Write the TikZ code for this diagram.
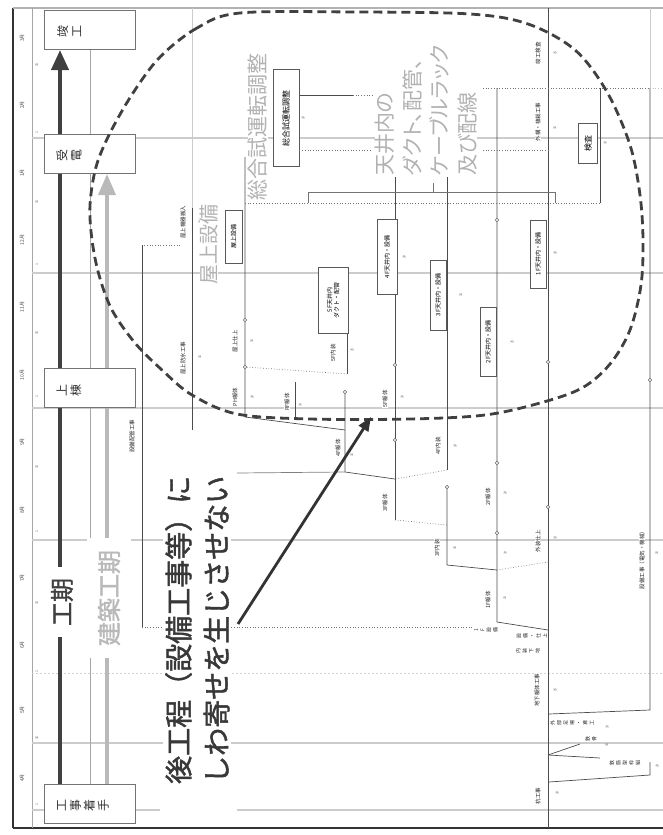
\documentclass[tikz,border=0pt]{standalone}
\usepackage{fontspec}
\setmainfont{Noto Sans CJK JP}
\newfontfamily\jpb[FakeBold=1.6]{Noto Sans CJK JP}
\newfontfamily\jpp[RawFeature=+palt]{Noto Sans CJK JP}
\usetikzlibrary{arrows.meta,positioning}

\tikzset{
  monthline/.style={gray!40,line width=2.2pt},
  procline/.style={black!70,line width=0.7pt},
  dprocline/.style={black!55,line width=0.7pt,dotted},
  tagv/.style={rotate=90,font=\fontsize{5.5}{6}\selectfont,text=black!85,inner sep=0.4pt,fill=white},
  tagh/.style={rotate=90,align=center,font=\fontsize{5}{6.5}\selectfont,text=black!85,inner sep=0.4pt,fill=white},
  numlbl/.style={rotate=90,font=\fontsize{3.5}{3.5}\selectfont,text=black!60,inner sep=0pt},
  monlbl/.style={rotate=90,font=\fontsize{5}{5}\selectfont,text=black!70,inner sep=0pt},
  taskbox/.style={rotate=90,draw=black!65,line width=0.8pt,fill=white,
    font=\fontsize{6}{7}\selectfont,align=center,inner sep=1pt},
  milebox/.style={draw=black!55,line width=1pt,fill=white,minimum width=91pt,minimum height=39pt,inner sep=0pt},
  miletext/.style={rotate=90,align=center,font=\fontsize{12}{14}\selectfont,text=black!80,inner sep=0pt},
  evt/.style={circle,draw=black!60,fill=white,inner sep=0pt,minimum size=3.5pt},
  gnote/.style={rotate=90,text=gray!60,font=\jpp\fontsize{21}{27.5}\selectfont,align=left,inner sep=0pt,fill=white},
}

\begin{document}
\begin{tikzpicture}[x=1pt,y=-1pt]
\useasboundingbox (0,0) rectangle (663,835);

% frame
\draw[black!80,line width=1.6pt] (13,8) -- (13,828);
\draw[black!80,line width=1.8pt] (13,828) -- (663,828);
\draw[gray!60,line width=2pt] (13,8) -- (663,8);
\draw[gray!70,line width=0.6pt] (32,8) -- (32,828);

% month grid
\foreach \y in {138,273,408,540,743}
  \draw[monthline] (32,\y) -- (663,\y);
\draw[monthline] (32,810) -- (160,810);
\draw[monthline] (237,810) -- (663,810);
\draw[gray!35,line width=0.8pt,dash pattern=on 2pt off 2pt] (32,673) -- (663,673);

% months and days
\foreach \y/\m [count=\i] in {38/3,105/2,173/1,240/12,307/11,375/10,442/9,510/8,578/7,645/6,710/5,778/4}
  \node[monlbl] (mon\i) at (22,\y) {{\m}月};
\foreach \y/\d [count=\i] in {65/15,133/1,202/15,265/1,333/15,397/1,467/15,532/1,603/15,672/1,738/15,805/1}
  \node[numlbl] (day\i) at (37,\y) {\d};

% milestones
\node[milebox] (ms1) at (89.5,30) {};
\node[milebox] (ms2) at (89.5,154) {};
\node[milebox] (ms3) at (89.5,388) {};
\node[milebox] (ms4) at (89.5,804) {};
\node[miletext] (ms1t) at (69,31) {竣\\工};
\node[miletext] (ms2t) at (69,155) {受\\電};
\node[miletext] (ms3t) at (69,390) {上\\棟};
\node[miletext] (ms4t) at (83,805) {工\\事\\着\\手};

\coordinate (colK) at (60,0);
\coordinate (colT) at (90,0);
\coordinate (colB) at (107,0);

% whole period
\draw[black!75,line width=4pt] (ms4.north -| colK) -- (ms3.south -| colK);
\draw[black!75,line width=4pt] (ms3.north -| colK) -- (ms2.south -| colK);
\draw[black!75,line width=4pt,-{Triangle[length=20pt,width=17pt]}] (ms2.north -| colK) -- (ms1.south -| colK);
% building period
\draw[gray!55,line width=3.5pt] (ms4.north -| colB) -- (ms3.south -| colB);
\draw[gray!55,line width=3.5pt,-{Triangle[length=21pt,width=17pt]}] (ms3.north -| colB) -- (ms2.south -| colB);
% thin line
\draw[gray!70,line width=0.7pt] (ms1.south -| colT) -- (ms2.north -| colT);
\draw[gray!70,line width=0.7pt] (ms2.south -| colT) -- (ms3.north -| colT);
\draw[gray!70,line width=0.7pt] (ms3.south -| colT) -- (ms4.north -| colT);

\node[rotate=90,fill=white,text=black!75,font=\jpb\fontsize{24}{24}\selectfont,
  minimum width=70pt,minimum height=24pt,inner sep=0pt] (kouki) at (62,602) {工期};
\node[rotate=90,fill=white,text=gray!55,font=\jpb\fontsize{24}{24}\selectfont,
  minimum width=120pt,minimum height=44pt,inner sep=0pt] (kenchiku) at (109,598) {建築工期};

% process network
\coordinate (r1) at (180,245);
\coordinate (r2) at (142,245);
\coordinate (r3) at (142,627);
\coordinate (r4) at (475,627);
\draw[dprocline] (r1) -- (r2);
\draw[procline] (r2) -- (r3);
\draw[dprocline] (r3) -- (r4);

\coordinate (q1) at (192,8);
\coordinate (q2) at (192,208);
\coordinate (q3) at (192,430);
\draw[gray!40,line width=0.5pt] (q1) -- (q2);
\draw[procline] (q2) -- (q3);

\coordinate (s1) at (245,157);
\coordinate (s2) at (245,417);
\coordinate (s3) at (345,430);
\coordinate (s4) at (347,374);
\draw[procline] (s1) -- (s2) -- (s3);
\node[evt] (e1) at (245,320) {};
\node[evt] (e2) at (245,367) {};
\draw[dprocline] (e2) -- (s4);

\coordinate (c1) at (347,277);
\coordinate (c2) at (345,472);
\coordinate (c0) at (237,473);
\coordinate (j1) at (395,479);
\coordinate (p1) at (295,382);
\coordinate (p2) at (295,420);
\draw[procline] (c1) -- (s4);
\node[evt] (e3) at (345,392) {};
\draw[procline] (e3) -- (c2) -- (j1);
\draw[procline,black!50] (c0) -- (c2);
\draw[procline] (p1) -- (p2);

\coordinate (d1) at (395,177);
\coordinate (d2) at (395,520);
\coordinate (d3) at (447,525);
\draw[procline] (d1) -- (d2);
\draw[dprocline] (d2) -- (d3);
\node[evt] (e4) at (395,365) {};
\node[evt] (e5) at (395,440) {};

\coordinate (f1) at (447,177);
\coordinate (f2) at (447,470);
\coordinate (f3) at (447,565);
\coordinate (f4) at (497,570);
\draw[procline] (f1) -- (f2);
\draw[dprocline] (f2) -- (j1);
\node[evt] (e6) at (447,487) {};
\draw[procline] (e6) -- (f3) -- (f4);

\coordinate (g1) at (497,88);
\coordinate (g2) at (497,622);
\coordinate (g3) at (548,630);
\coordinate (g4) at (548,562);
\draw[procline] (g1) -- (g2) -- (g3);
\draw[dprocline] (f4) -- (g4);
\node[evt] (e7) at (497,220) {};
\node[evt] (e8) at (497,463) {};
\node[evt] (e9) at (497,533) {};

\coordinate (k1) at (548,8);
\coordinate (k2) at (548,828);
\draw[procline] (k1) -- (k2);
\node[evt] (e10) at (548,362) {};
\node[evt] (e11) at (548,507) {};

\coordinate (h0) at (650,8);
\coordinate (h1) at (650,88);
\coordinate (h2) at (650,710);
\coordinate (h3) at (549,714);
\coordinate (h4) at (663,88);
\coordinate (u1) at (483,88);
\draw[gray!40,line width=0.5pt] (h0) -- (h1);
\draw[procline] (h1) -- (h2) -- (h3);
\draw[dprocline] (u1) -- (h1);
\draw[dprocline,gray!50] (h1) -- (h4);
\node[evt] (e12) at (650,380) {};

\coordinate (v1) at (600,88);
\coordinate (v2) at (600,203);
\coordinate (w1) at (245,203);
\draw[procline] (v1) -- (v2);
\draw[dprocline] (w1) -- (v2);
\coordinate (b1) at (308,203);
\coordinate (b2) at (308,192);
\coordinate (b3) at (555,192);
\coordinate (b4) at (555,203);
\coordinate (b5) at (433,192);
\coordinate (b6) at (433,183);
\draw[procline,black!55] (b1) -- (b2) -- (b3) -- (b4);
\draw[procline,black!55] (b5) -- (b6);

\coordinate (m1) at (548,755);
\coordinate (m2) at (580,744);
\coordinate (m3) at (600,758);
\coordinate (m4) at (650,762);
\coordinate (m5) at (650,775);
\coordinate (m6) at (549,782);
\draw[procline] (m1) -- (m2);
\draw[procline] (m1) -- (m3);
\draw[procline] (m4) -- (m5) -- (m6);

% task boxes
\node[taskbox,minimum width=97pt,minimum height=26pt,font=\fontsize{8}{9}\selectfont] (bA) at (286,118) {総合試運転調整};
\node[taskbox,minimum width=53pt,minimum height=17pt] (bB) at (233.5,236.5) {屋上設備};
\node[taskbox,minimum width=66pt,minimum height=30pt] (bC) at (333,300) {5F天井内\\ダクト・配管};
\node[taskbox,minimum width=75pt,minimum height=20pt] (bD) at (387,257) {4F天井内・設備};
\node[taskbox,minimum width=70pt,minimum height=16pt] (bE) at (438,295) {3F天井内・設備};
\node[taskbox,minimum width=69pt,minimum height=16pt] (bF) at (488,342) {2F天井内・設備};
\node[taskbox,minimum width=68pt,minimum height=16pt] (bG) at (538,254) {1F天井内・設備};
\node[taskbox,minimum width=40pt,minimum height=19pt,font=\fontsize{8}{9}\selectfont] (bH) at (588,143) {検査};

\coordinate (t1) at (353,95);
\coordinate (t2) at (372,95);
\coordinate (t3) at (372,150);
\coordinate (t4) at (483,150);
\coordinate (t5) at (548,150);
\draw[procline] (bA.south |- t1) -- (t1);
\draw[dprocline] (t1) -- (t2);
\draw[dprocline] (bA.south |- t3) -- (t3);
\draw[dprocline] (t4) -- (t5);

% small labels
\node[tagv] (ta1) at (538,53) {竣工検査};
\node[tagv] (ta2) at (538,122) {外構・植栽工事};
\node[tagv] (ta3) at (183,222) {屋上機器搬入};
\node[tagv] (ta4) at (183,358) {屋上防水工事};
\node[tagv] (ta5) at (132,436) {設備配管工事};
\node[tagv] (ta6) at (235,341) {屋上仕上};
\node[tagv] (ta7) at (235,397) {PH躯体};
\node[tagv] (ta8) at (287,402) {RF躯体};
\node[tagv] (ta9) at (333,353) {5F内装};
\node[tagv] (ta10) at (385,399) {5F躯体};
\node[tagv] (ta11) at (338,448) {4F躯体};
\node[tagv] (ta12) at (438,446) {4F内装};
\node[tagv] (ta13) at (385,503) {3F躯体};
\node[tagv] (ta14) at (437,548) {3F内装};
\node[tagv] (ta15) at (488,497) {2F躯体};
\node[tagv] (ta16) at (488,600) {1F躯体};
\node[tagv] (ta17) at (538,541) {外装仕上};
\node[tagv] (ta18) at (537,690) {地下躯体工事};
\node[tagv] (ta19) at (538,796) {杭工事};
\node[tagv] (ta20) at (642,559) {設備工事（電気・機械）};

\node[tagh] (tb1) at (572,723) {外\\部\\足\\場\\・\\鳶\\工};
\node[tagh] (tb2) at (591,739) {鉄\\骨};
\node[tagh] (tb3) at (625,763) {鉄\\筋\\型\\枠\\組};
\node[tagh] (tb4) at (532,636) {設\\備\\・\\仕\\上};
\node[tagh] (tb5) at (528,651) {内\\装\\下\\地};
\node[tagh] (tb6) at (486,630) {1\\F\\設\\備};

\foreach \x/\y/\d [count=\i] in {303/118/20,200/357/15,300/405/10,352/350/25,402/397/10,
    352/455/15,455/446/20,455/548/15,505/493/20,505/553/10,505/598/15,555/53/25,
    555/128/15,555/253/20,555/538/10,555/690/25,557/793/20,657/553/15,607/727/10,
    607/745/15,657/766/20,605/143/10,252/341/15,252/397/20,200/222/10,461/295/15,
    512/342/25,404/257/20}
  \node[numlbl] (nm\i) at (\x,\y) {\d};

% notes in grey
\node[gnote,anchor=west] (n1) at (258,201) {総合試運転調整};
\node[gnote,anchor=north west] (n2) at (375,176) {天井内の\\ダクト、配管、\\ケーブルラック\\及び配線};
\node[gnote,anchor=west,font=\jpp\fontsize{20}{20}\selectfont] (n3) at (209,285) {屋上設備};

% message
\node[rotate=90,anchor=north west,align=left,fill=white,inner sep=2pt,text=black!78,
  font=\jpb\fontsize{28}{38}\selectfont] (msg) at (163,786) {後工程（設備工事等）に\\しわ寄せを生じさせない};

% dashed ring round the finishing works
\draw[black!75,line width=2.8pt,dash pattern=on 9pt off 5pt] plot[smooth cycle,tension=0.55] coordinates {
  (240,13) (197,28) (160,57) (133,93) (110,133) (96,167) (90,205) (92,240) (99,275)
  (112,310) (135,343) (162,370) (192,395) (237,414) (310,419) (410,419) (485,415)
  (540,403) (582,388) (610,364) (630,330) (641,285) (643,240) (640,195) (630,145)
  (607,92) (575,50) (528,24) (470,14) (355,12)};

\coordinate (arS) at (238,624);
\coordinate (arE) at (371,417);
\draw[black!80,line width=2.8pt,-{Triangle[length=14pt,width=11pt]}] (arS) -- (arE);

\end{tikzpicture}
\end{document}
